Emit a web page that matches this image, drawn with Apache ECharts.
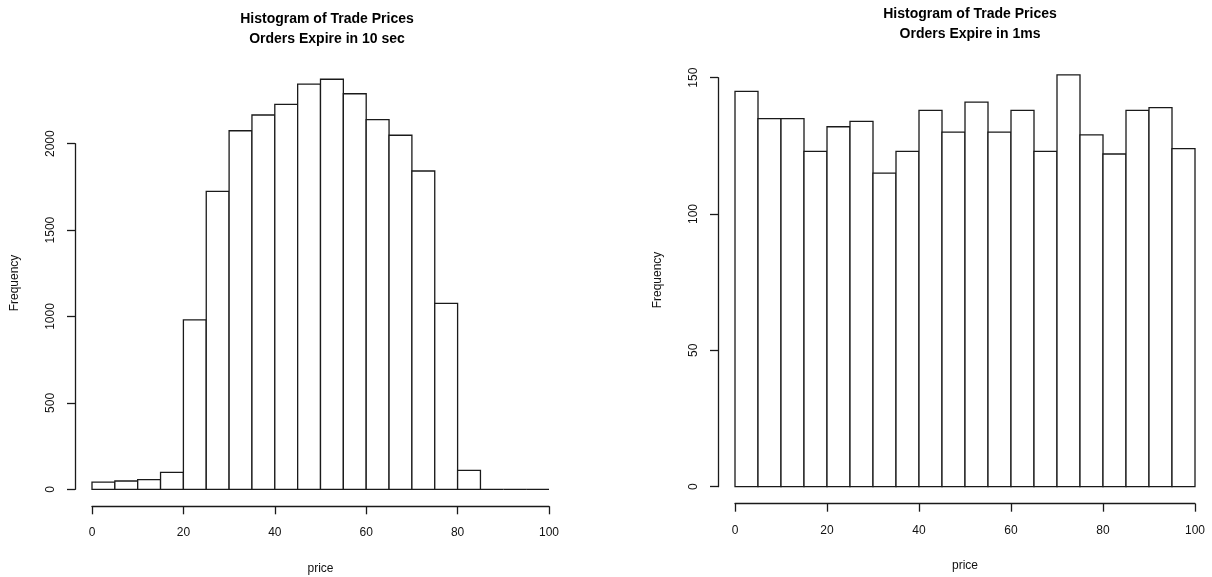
<!DOCTYPE html>
<html>
<head>
<meta charset="utf-8">
<script src="https://cdn.jsdelivr.net/npm/echarts@6/dist/echarts.min.js"></script>
<style>
html,body{margin:0;padding:0;background:#fff;}
#c{width:1212px;height:577px;}
</style>
</head>
<body>
<div id="c"></div>
<script>
// ---- data ----
var binStarts = [0,5,10,15,20,25,30,35,40,45,50,55,60,65,70,75,80,85,90,95];
var binWidth = 5;
var freq10sec = [42,48,56,98,980,1724,2075,2166,2228,2345,2373,2289,2139,2049,1842,1076,110,0,0,0];
var freq1ms = [145,135,135,123,132,134,115,123,138,130,141,130,138,123,151,129,122,138,139,124];
var titleLeft = 'Histogram of Trade Prices\nOrders Expire in 10 sec';
var titleRight = 'Histogram of Trade Prices\nOrders Expire in 1ms';
var xName = 'price';
var yName = 'Frequency';

var FONT = '"Liberation Sans", Arial, sans-serif';
var LINE = '#1a1a1a';
var LW = 1.3;

function histData(vals){
  return vals.map(function(v,i){ return [binStarts[i], binStarts[i]+binWidth, v]; });
}
function renderRect(params, api){
  var p0 = api.coord([api.value(0), 0]);
  var p1 = api.coord([api.value(1), api.value(2)]);
  return {
    type:'rect',
    shape:{x:p0[0], y:p1[1], width:p1[0]-p0[0], height:p0[1]-p1[1]},
    style:{fill:'#fff', stroke:LINE, lineWidth:LW}
  };
}

var chart = echarts.init(document.getElementById('c'), null, {renderer:'canvas'});

var axisLineStyle = {show:true, onZero:false, lineStyle:{color:LINE, width:LW}};
var tickStyle = {show:true, inside:false, length:8, lineStyle:{color:LINE, width:LW}};
var labelStyle = {color:'#111', fontFamily:FONT, fontSize:12};
function plain(v){ return String(v); }
function mkGrid(l, w, t, b){
  return {left:l, width:w, top:t, bottom:b, containLabel:false, outerBoundsMode:'none'};
}

var option = {
  animation:false,
  backgroundColor:'#fff',
  title:[
    {text:titleLeft, left:322, top:4, textAlign:'center',
     textStyle:{fontFamily:FONT, fontSize:14, fontWeight:'bold', color:'#000', lineHeight:20}},
    {text:titleRight, left:965, top:-1, textAlign:'center',
     textStyle:{fontFamily:FONT, fontSize:14, fontWeight:'bold', color:'#000', lineHeight:20}}
  ],
  grid:[
    mkGrid(92, 457, 57.3, 87.7),
    mkGrid(92, 457, 143.7, 87.7),
    mkGrid(735, 460, 50.4, 90.3),
    mkGrid(735, 460, 77.7, 90.3)
  ],
  xAxis:[
    {gridIndex:0, type:'value', min:0, max:100, interval:20, offset:17,
     axisLine:axisLineStyle, axisTick:tickStyle, splitLine:{show:false},
     axisLabel:Object.assign({margin:20, formatter:plain}, labelStyle),
     name:xName, nameLocation:'middle', nameGap:56, nameTextStyle:labelStyle},
    {gridIndex:1, type:'value', min:0, max:100, show:false},
    {gridIndex:2, type:'value', min:0, max:100, interval:20, offset:17,
     axisLine:axisLineStyle, axisTick:tickStyle, splitLine:{show:false},
     axisLabel:Object.assign({margin:21, formatter:plain}, labelStyle),
     name:xName, nameGap:56, nameLocation:'middle', nameTextStyle:labelStyle},
    {gridIndex:3, type:'value', min:0, max:100, show:false}
  ],
  yAxis:[
    {gridIndex:0, type:'value', min:0, max:2500, show:false},
    {gridIndex:1, type:'value', min:0, max:2000, interval:500, offset:17,
     axisLine:axisLineStyle, axisTick:tickStyle, splitLine:{show:false},
     axisLabel:Object.assign({rotate:90, margin:18, formatter:plain}, labelStyle)},
    {gridIndex:2, type:'value', min:0, max:160, show:false},
    {gridIndex:3, type:'value', min:0, max:150, interval:50, offset:17,
     axisLine:axisLineStyle, axisTick:tickStyle, splitLine:{show:false},
     axisLabel:Object.assign({rotate:90, margin:18, formatter:plain}, labelStyle)}
  ],
  graphic:[
    {type:'text', x:15, y:283, rotation:Math.PI/2, style:{text:yName, font:'12px '+FONT, fill:'#111', align:'center', verticalAlign:'middle'}},
    {type:'text', x:658, y:280, rotation:Math.PI/2, style:{text:yName, font:'12px '+FONT, fill:'#111', align:'center', verticalAlign:'middle'}}
  ],
  series:[
    {type:'custom', xAxisIndex:0, yAxisIndex:0, renderItem:renderRect, data:histData(freq10sec), encode:{x:[0,1], y:2}},
    {type:'custom', xAxisIndex:2, yAxisIndex:2, renderItem:renderRect, data:histData(freq1ms), encode:{x:[0,1], y:2}}
  ]
};
chart.setOption(option);
</script>
</body>
</html>
